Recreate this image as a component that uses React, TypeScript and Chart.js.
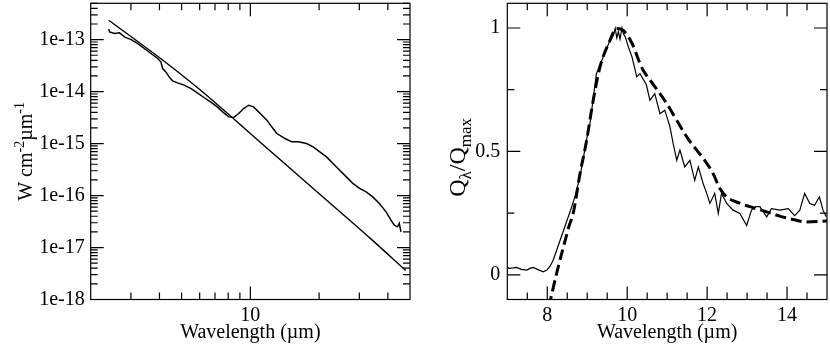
import { useEffect, useRef } from 'react';
import { Chart, registerables } from 'chart.js';

Chart.register(...registerables);

// ---------- Left panel: spectral energy distribution ----------
const sedWavelength = [2.40, 2.42, 2.543, 2.674, 2.811, 3.006, 3.215, 3.434, 3.672, 3.928, 4.059, 4.129, 4.267, 4.411, 4.564, 4.798, 5.125, 5.482, 5.861, 6.261, 6.695, 7.160, 7.649, 8.043, 8.455, 8.889, 9.346, 9.824, 10.33, 11.05, 11.81, 12.42, 13.06, 14.19, 15.17, 16.20, 17.63, 18.83, 20.14, 21.54, 23.01, 24.60, 26.32, 28.11, 30.06, 32.15, 34.34, 36.72, 39.28, 41.29, 42.67, 44.11, 44.87, 45.64];
const sedFlux = [1.6e-13, 1.41e-13, 1.31e-13, 1.35e-13, 1.13e-13, 1.0e-13, 8.41e-14, 6.75e-14, 5.41e-14, 4.33e-14, 3.73e-14, 2.78e-14, 2.39e-14, 1.92e-14, 1.61e-14, 1.47e-14, 1.33e-14, 1.15e-14, 9.44e-15, 7.70e-15, 6.34e-15, 5.08e-15, 3.89e-15, 3.26e-15, 3.18e-15, 3.79e-15, 4.73e-15, 5.47e-15, 5.08e-15, 3.79e-15, 2.82e-15, 2.09e-15, 1.56e-15, 1.25e-15, 1.08e-15, 1.08e-15, 1.00e-15, 8.65e-16, 6.92e-16, 5.55e-16, 4.14e-16, 3.08e-16, 2.29e-16, 1.71e-16, 1.37e-16, 1.18e-16, 9.44e-17, 7.05e-17, 4.86e-17, 3.37e-17, 2.70e-17, 2.50e-17, 2.91e-17, 2.00e-17];
const photoWavelength = [2.398, 4.059, 6.058, 11.05, 20.14, 33.8, 47.9];
const photoFlux = [2.36e-13, 4.29e-14, 1.06e-14, 1.06e-15, 1.06e-16, 1.45e-17, 3.6e-18];

const leftXMajorTicks = [10];
const leftXMinorTicks = [3, 4, 5, 6, 7, 8, 9, 20, 30, 40];
const leftYMajorTicks = [1e-18, 1e-17, 1e-16, 1e-15, 1e-14, 1e-13];
const leftYMinorMantissas = [2, 3, 4, 5, 6, 7, 8, 9];

// ---------- Right panel: normalised efficiency ----------
const obsWavelength = [7.0, 7.05, 7.15, 7.23, 7.35, 7.49, 7.57, 7.65, 7.78, 7.9, 7.99, 8.07, 8.15, 8.3, 8.45, 8.58, 8.7, 8.82, 8.9, 8.98, 9.07, 9.23, 9.4, 9.57, 9.65, 9.7, 9.74, 9.78, 9.82, 9.87, 9.91, 9.95, 10.03, 10.12, 10.24, 10.32, 10.48, 10.57, 10.69, 10.82, 10.94, 11.07, 11.15, 11.24, 11.32, 11.44, 11.57, 11.69, 11.78, 11.9, 11.99, 12.07, 12.19, 12.28, 12.36, 12.49, 12.65, 12.82, 12.99, 13.11, 13.22, 13.32, 13.49, 13.61, 13.82, 14.03, 14.19, 14.32, 14.44, 14.57, 14.69, 14.81, 14.9, 14.98];
const obsQ = [0.03, 0.026, 0.028, 0.03, 0.022, 0.019, 0.026, 0.03, 0.02, 0.012, 0.019, 0.035, 0.06, 0.13, 0.2, 0.26, 0.32, 0.4, 0.47, 0.545, 0.613, 0.815, 0.883, 0.95, 0.97, 0.998, 0.96, 0.985, 0.955, 1.0, 0.975, 0.965, 0.923, 0.883, 0.802, 0.815, 0.77, 0.707, 0.734, 0.653, 0.667, 0.6, 0.532, 0.464, 0.505, 0.437, 0.464, 0.383, 0.437, 0.37, 0.33, 0.289, 0.33, 0.249, 0.33, 0.289, 0.262, 0.249, 0.2, 0.262, 0.276, 0.276, 0.235, 0.268, 0.262, 0.268, 0.24, 0.262, 0.33, 0.289, 0.282, 0.316, 0.262, 0.235];
const modelWavelength = [8.04, 8.24, 8.4, 8.55, 8.65, 8.82, 8.98, 9.15, 9.32, 9.57, 9.73, 9.9, 10.12, 10.32, 10.4, 10.65, 10.99, 11.24, 11.49, 11.74, 11.94, 12.15, 12.32, 12.49, 12.82, 13.07, 13.49, 13.82, 14.15, 14.49, 15.0];
const modelQ = [-0.13, 0.01, 0.11, 0.2, 0.25, 0.41, 0.54, 0.707, 0.842, 0.95, 0.998, 0.99, 0.938, 0.856, 0.829, 0.772, 0.694, 0.626, 0.559, 0.505, 0.464, 0.41, 0.35, 0.316, 0.29, 0.276, 0.255, 0.238, 0.224, 0.214, 0.218];

const rightXMajorTicks = [8, 10, 12, 14];
const rightXMinorTicks = [7.5, 8.5, 9, 9.5, 10.5, 11, 11.5, 12.5, 13, 13.5, 14.5];
const rightYMajorTicks = [0, 0.5, 1];
const rightYMinorTicks = [0.25, 0.75];

const FONT = '"Liberation Serif", "DejaVu Serif", serif';

type Part = { t: string; s: number; dy: number };

function makeFramePlugin(opts: {
  xMajor: number[]; xMinor: number[]; yMajor: number[]; yMinor: number[];
  title: Part[]; titleX: number; titleShift: number;
}) {
  return {
    id: 'frameTicks',
    afterDraw(chart: any) {
      const { ctx, chartArea: a, scales } = chart;
      const xs = scales.x, ys = scales.y;
      ctx.save();
      ctx.strokeStyle = '#000';
      ctx.lineWidth = 1.2;
      ctx.strokeRect(a.left, a.top, a.right - a.left, a.bottom - a.top);
      const MAJ = 13, MIN = 7;
      const xt = (vals: number[], len: number) => {
        vals.forEach((v) => {
          const p = xs.getPixelForValue(v);
          ctx.beginPath();
          ctx.moveTo(p, a.bottom); ctx.lineTo(p, a.bottom - len);
          ctx.moveTo(p, a.top); ctx.lineTo(p, a.top + len);
          ctx.stroke();
        });
      };
      const yt = (vals: number[], len: number) => {
        vals.forEach((v) => {
          const p = ys.getPixelForValue(v);
          ctx.beginPath();
          ctx.moveTo(a.left, p); ctx.lineTo(a.left + len, p);
          ctx.moveTo(a.right, p); ctx.lineTo(a.right - len, p);
          ctx.stroke();
        });
      };
      xt(opts.xMajor, MAJ); xt(opts.xMinor, MIN);
      yt(opts.yMajor, MAJ); yt(opts.yMinor, MIN);

      // rotated y-axis title with super/subscripts
      ctx.fillStyle = '#000';
      ctx.textBaseline = 'alphabetic';
      ctx.textAlign = 'left';
      let total = 0;
      opts.title.forEach((p) => { ctx.font = `${p.s}px ${FONT}`; total += ctx.measureText(p.t).width; });
      const cy = (a.top + a.bottom) / 2 + opts.titleShift;
      ctx.translate(opts.titleX, cy);
      ctx.rotate(-Math.PI / 2);
      let u = -total / 2;
      opts.title.forEach((p) => {
        ctx.font = `${p.s}px ${FONT}`;
        ctx.fillText(p.t, u, p.dy);
        u += ctx.measureText(p.t).width;
      });
      ctx.restore();
    },
  };
}

function useChart(ref: any, build: () => any) {
  useEffect(() => {
    if (!ref.current) return;
    const chart = new Chart(ref.current, build());
    return () => chart.destroy();
  }, []);
}

const commonPlugins = { legend: { display: false }, tooltip: { enabled: false } };

const noPad = (s: any) => { s.paddingTop = 0; s.paddingBottom = 0; s.paddingLeft = 0; s.paddingRight = 0; };

function LeftChart() {
  const ref = useRef<HTMLCanvasElement>(null);
  useChart(ref, () => {
    const yMinor: number[] = [];
    leftYMajorTicks.forEach((d) => leftYMinorMantissas.forEach((m) => { if (m * d <= 5e-13) yMinor.push(m * d); }));
    return {
      type: 'line',
      data: {
        datasets: [
          { data: photoWavelength.map((x, i) => ({ x, y: photoFlux[i] })), borderColor: '#000', borderWidth: 1.4, pointRadius: 0, tension: 0.4, cubicInterpolationMode: 'monotone' },
          { data: sedWavelength.map((x, i) => ({ x, y: sedFlux[i] })), borderColor: '#000', borderWidth: 1.5, pointRadius: 0, tension: 0 },
        ],
      },
      options: {
        responsive: false, animation: false, events: [],
        layout: { padding: { top: 3.3, right: 10, left: 0, bottom: 0 } },
        plugins: commonPlugins,
        scales: {
          x: {
            type: 'logarithmic', min: 2, max: 50,
            grid: { display: false, drawTicks: false }, border: { display: false },
            afterBuildTicks: (s: any) => { s.ticks = leftXMajorTicks.map((v) => ({ value: v, major: true })); },
            afterFit: (s: any) => { s.height = 49.5; noPad(s); },
            ticks: { autoSkip: false, maxRotation: 0, padding: 4, color: '#000', font: { family: FONT, size: 20 }, callback: (v: any) => String(v) },
            title: { display: true, text: 'Wavelength (µm)', color: '#000', font: { family: FONT, size: 20 }, padding: { top: 0, bottom: 4 } },
          },
          y: {
            type: 'logarithmic', min: 1e-18, max: 5e-13,
            grid: { display: false, drawTicks: false }, border: { display: false },
            afterBuildTicks: (s: any) => { s.ticks = leftYMajorTicks.map((v) => ({ value: v, major: true })); },
            afterFit: (s: any) => { s.width = 90.7; noPad(s); },
            ticks: { autoSkip: false, padding: 6, color: '#000', font: { family: FONT, size: 20 }, callback: (v: any) => `1e${Math.round(Math.log10(v))}` },
          },
        },
      },
      plugins: [makeFramePlugin({
        xMajor: leftXMajorTicks, xMinor: leftXMinorTicks, yMajor: leftYMajorTicks, yMinor: yMinor,
        title: [{ t: 'W cm', s: 20, dy: 0 }, { t: '-2', s: 14, dy: -8 }, { t: 'µm', s: 20, dy: 0 }, { t: '-1', s: 14, dy: -8 }],
        titleX: 32, titleShift: 0,
      })],
    };
  });
  return <canvas ref={ref} width={420} height={349} style={{ position: 'absolute', left: 0, top: 0 }} />;
}

function RightChart() {
  const ref = useRef<HTMLCanvasElement>(null);
  useChart(ref, () => ({
    type: 'line',
    data: {
      datasets: [
        { data: obsWavelength.map((x, i) => ({ x, y: obsQ[i] })), borderColor: '#000', borderWidth: 1.2, pointRadius: 0, tension: 0 },
        { data: modelWavelength.map((x, i) => ({ x, y: modelQ[i] })), borderColor: '#000', borderWidth: 3, borderDash: [11, 5], pointRadius: 0, tension: 0.3, cubicInterpolationMode: 'monotone' },
      ],
    },
    options: {
      responsive: false, animation: false, events: [],
      layout: { padding: { top: 3.3, right: 3, left: 0, bottom: 0 } },
      plugins: commonPlugins,
      scales: {
        x: {
          type: 'linear', min: 7, max: 15,
          grid: { display: false, drawTicks: false }, border: { display: false },
          afterBuildTicks: (s: any) => { s.ticks = rightXMajorTicks.map((v) => ({ value: v })); },
          afterFit: (s: any) => { s.height = 49.5; noPad(s); },
          ticks: { autoSkip: false, maxRotation: 0, padding: 4, color: '#000', font: { family: FONT, size: 20 }, callback: (v: any) => String(v) },
          title: { display: true, text: 'Wavelength (µm)', color: '#000', font: { family: FONT, size: 20 }, padding: { top: 0, bottom: 4 } },
        },
        y: {
          type: 'linear', min: -0.1, max: 1.1,
          grid: { display: false, drawTicks: false }, border: { display: false },
          afterBuildTicks: (s: any) => { s.ticks = rightYMajorTicks.map((v) => ({ value: v })); },
          afterFit: (s: any) => { s.width = 87.3; noPad(s); },
          ticks: { autoSkip: false, padding: 7, color: '#000', font: { family: FONT, size: 20 }, callback: (v: any) => String(v) },
        },
      },
    },
    plugins: [makeFramePlugin({
      xMajor: rightXMajorTicks, xMinor: rightXMinorTicks, yMajor: rightYMajorTicks, yMinor: rightYMinorTicks,
      title: [{ t: 'Q', s: 24, dy: 0 }, { t: 'λ', s: 17, dy: 6 }, { t: '/Q', s: 24, dy: 0 }, { t: 'max', s: 17, dy: 6 }],
      titleX: 45, titleShift: 6,
    })],
  }));
  return <canvas ref={ref} width={410} height={349} style={{ position: 'absolute', left: 420, top: 0 }} />;
}

export default function App() {
  return (
    <div style={{ position: 'absolute', left: 0, top: 0, width: 830, height: 349, background: '#fff' }}>
      <LeftChart />
      <RightChart />
    </div>
  );
}
